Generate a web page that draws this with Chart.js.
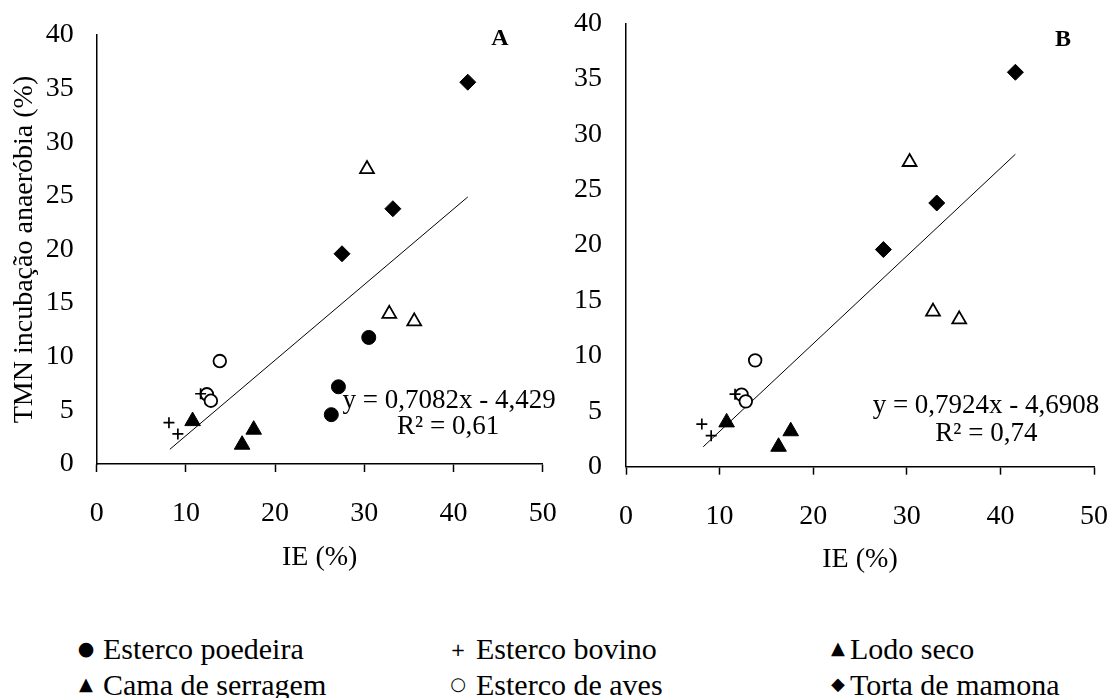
<!DOCTYPE html>
<html>
<head>
<meta charset="utf-8">
<script src="https://cdn.jsdelivr.net/npm/chart.js@4"></script>
<style>
  html, body { margin: 0; padding: 0; background: #fff; }
  #wrap { position: relative; width: 1112px; height: 698px; overflow: hidden; font-family: "Liberation Serif", "Times New Roman", serif; }
  canvas { position: absolute; }
  .lg { position: absolute; font-size: 30px; line-height: 30px; color: #000; white-space: nowrap; }
  .mk { position: absolute; font-family: "DejaVu Sans", sans-serif; color: #000; line-height: 1; transform: translate(-50%, -50%); }
</style>
</head>
<body>
<div id="wrap">
  <canvas id="cA" width="560" height="574" style="left:0;top:0"></canvas>
  <canvas id="cB" width="552" height="580" style="left:560px;top:0"></canvas>

  <span class="mk" style="left:86px;top:648px;font-size:19px">●</span>
  <span class="lg" style="left:103px;top:634px">Esterco poedeira</span>
  <span class="mk" style="left:458px;top:650px;font-size:18px">+</span>
  <span class="lg" style="left:476px;top:634px">Esterco bovino</span>
  <span class="mk" style="left:838px;top:648px;font-size:18px">▲</span>
  <span class="lg" style="left:850px;top:634px">Lodo seco</span>

  <span class="mk" style="left:86px;top:684px;font-size:18px">▲</span>
  <span class="lg" style="left:103px;top:670px">Cama de serragem</span>
  <span class="mk" style="left:458px;top:684px;font-size:18px">○</span>
  <span class="lg" style="left:476px;top:670px">Esterco de aves</span>
  <span class="mk" style="left:838px;top:684px;font-size:18px">◆</span>
  <span class="lg" style="left:850px;top:670px">Torta de mamona</span>
</div>
<script>
// ---- data ----
const xTicks = [0, 10, 20, 30, 40, 50];
const yTicks = [0, 5, 10, 15, 20, 25, 30, 35, 40];

const iePoedeira = [30.5, 27.1, 26.3];
const tmnPoedeira = [11.8, 7.2, 4.6];

const ieBovino = [11.65, 8.1, 9.1];
const tmnBovino = [6.55, 3.85, 2.8];

const ieLodo = [30.3, 32.8, 35.6];
const tmnLodo = [27.5, 14.0, 13.3];

const ieCama = [10.75, 16.3, 17.6];
const tmnCama = [4.0, 1.8, 3.2];

const ieAves = [13.8, 12.35, 12.8];
const tmnAves = [9.6, 6.5, 5.9];

const ieTorta = [41.6, 33.2, 27.5];
const tmnTorta = [35.6, 23.8, 19.6];

const trendAx = [8.2, 41.6];
const trendAy = [1.37, 24.9];
const trendBx = [8.25, 41.6];
const trendBy = [1.8, 28.2];

const eqA = "y = 0,7082x - 4,429";
const r2A = "R² = 0,61";
const eqB = "y = 0,7924x - 4,6908";
const r2B = "R² = 0,74";

// ---- helpers ----
const pts = (xs, ys) => xs.map((x, i) => ({ x: x, y: ys[i] }));
const FONT = "'Liberation Serif', 'Times New Roman', serif";

function seriesSet(includePoedeira) {
  const s = [];
  if (includePoedeira) {
    s.push({ label: 'Esterco poedeira', data: pts(iePoedeira, tmnPoedeira), pointStyle: 'circle', pointRadius: 7, backgroundColor: '#000', borderColor: '#000', borderWidth: 1 });
  }
  s.push({ label: 'Esterco bovino', data: pts(ieBovino, tmnBovino), pointStyle: 'cross', pointRadius: 5.5, backgroundColor: '#000', borderColor: '#000', borderWidth: 1.7 });
  s.push({ label: 'Lodo seco', data: pts(ieLodo, tmnLodo), pointStyle: 'triangle', pointRadius: 8, backgroundColor: '#fff', borderColor: '#000', borderWidth: 1.8 });
  s.push({ label: 'Cama de serragem', data: pts(ieCama, tmnCama), pointStyle: 'triangle', pointRadius: 9, backgroundColor: '#000', borderColor: '#000', borderWidth: 1 });
  s.push({ label: 'Esterco de aves', data: pts(ieAves, tmnAves), pointStyle: 'circle', pointRadius: 6.3, backgroundColor: '#fff', borderColor: '#000', borderWidth: 1.8 });
  s.push({ label: 'Torta de mamona', data: pts(ieTorta, tmnTorta), pointStyle: 'rectRot', pointRadius: 8, backgroundColor: '#000', borderColor: '#000', borderWidth: 1 });
  s.forEach(d => { d.type = 'scatter'; d.showLine = false; d.pointHoverRadius = d.pointRadius; });
  return s;
}

function trend(xs, ys) {
  return { type: 'line', label: 'trend', data: pts(xs, ys), borderColor: '#000', borderWidth: 1, pointRadius: 0, fill: false, tension: 0, order: 10 };
}

const textPlugin = {
  id: 'texts',
  afterDraw(chart, args, opts) {
    const ctx = chart.ctx;
    const xs = chart.scales.x, ys = chart.scales.y;
    ctx.save();
    (opts.items || []).forEach(it => {
      ctx.font = it.font;
      ctx.fillStyle = '#000';
      ctx.textAlign = 'center';
      ctx.textBaseline = 'middle';
      ctx.fillText(it.text, xs.getPixelForValue(it.x), ys.getPixelForValue(it.y));
    });
    ctx.restore();
  }
};

function makeOptions(cfg) {
  return {
    responsive: false,
    animation: false,
    devicePixelRatio: 1,
    layout: { padding: cfg.padding },
    plugins: {
      legend: { display: false },
      tooltip: { enabled: false },
      texts: { items: cfg.texts }
    },
    scales: {
      x: {
        type: 'linear',
        position: 'bottom',
        min: 0, max: 50,
        afterBuildTicks: s => { s.ticks = xTicks.map(v => ({ value: v })); },
        afterFit: s => { s.height = cfg.xHeight; s.paddingLeft = 0; s.paddingRight = 0; },
        border: { display: true, color: '#000', width: 1.5 },
        grid: { display: true, drawOnChartArea: false, drawTicks: true, tickLength: 8, tickWidth: 1.5, tickColor: '#000' },
        ticks: { color: '#000', font: { family: FONT, size: 28 }, padding: 25, maxRotation: 0 },
        title: { display: true, text: 'IE (%)', color: '#000', font: { family: FONT, size: 28 }, padding: { top: cfg.xTitlePad, bottom: 0 } }
      },
      y: {
        type: 'linear',
        position: 'left',
        min: 0, max: 40,
        afterBuildTicks: s => { s.ticks = yTicks.map(v => ({ value: v })); },
        afterFit: s => { s.width = cfg.yWidth; s.paddingTop = 0; s.paddingBottom = 0; },
        border: { display: true, color: '#000', width: 1.5 },
        grid: { display: true, drawOnChartArea: false, drawTicks: false },
        ticks: { color: '#000', font: { family: FONT, size: 28 }, padding: cfg.yTickPad },
        title: { display: cfg.yTitle, text: 'TMN incubação anaeróbia (%)', color: '#000', font: { family: FONT, size: 28 }, padding: { top: 8, bottom: 0 } }
      }
    }
  };
}

new Chart(document.getElementById('cA'), {
  data: { datasets: [trend(trendAx, trendAy)].concat(seriesSet(true)) },
  options: makeOptions({
    padding: { top: 35, left: 0, right: 17.3, bottom: 0 }, xHeight: 110,
    yWidth: 96.7, yTickPad: 23, yTitle: true, xTitlePad: 2,
    texts: [
      { text: eqA, x: 39.5, y: 5.9, font: "27px " + FONT },
      { text: r2A, x: 39.4, y: 3.45, font: "27px " + FONT },
      { text: 'A', x: 45.2, y: 39.6, font: "bold 24px " + FONT }
    ]
  }),
  plugins: [textPlugin]
});

new Chart(document.getElementById('cB'), {
  data: { datasets: [trend(trendBx, trendBy)].concat(seriesSet(false)) },
  options: makeOptions({
    padding: { top: 23.5, left: 0, right: 18, bottom: 3.3 }, xHeight: 110,
    yWidth: 66, yTickPad: 24, yTitle: false, xTitlePad: 5,
    texts: [
      { text: eqB, x: 38.46, y: 5.48, font: "27px " + FONT },
      { text: r2B, x: 38.5, y: 2.95, font: "27px " + FONT },
      { text: 'B', x: 46.7, y: 38.5, font: "bold 24px " + FONT }
    ]
  }),
  plugins: [textPlugin]
});
</script>
</body>
</html>
